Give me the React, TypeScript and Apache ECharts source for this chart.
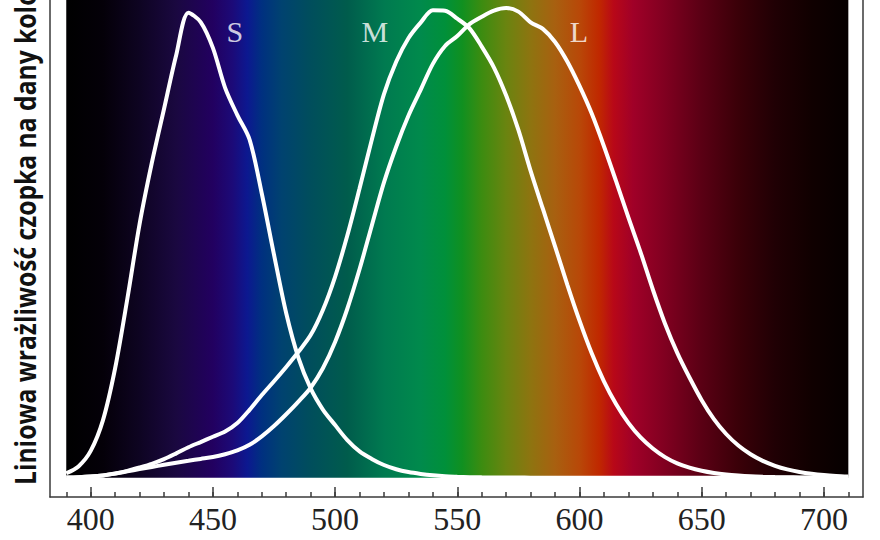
import React, { useEffect, useRef } from "react";
import * as echarts from "echarts";

// Wavelengths (nm) of the sampled sensitivity curves
const WAVELENGTHS = [
  390, 395, 400, 405, 410, 415, 420, 425, 430, 435, 440, 445, 450, 455, 460, 465, 470, 475, 480, 485,
  490, 495, 500, 505, 510, 515, 520, 525, 530, 535, 540, 545, 550, 555, 560, 565, 570, 575, 580, 585,
  590, 595, 600, 605, 610, 615, 620, 625, 630, 635, 640, 645, 650, 655, 660, 665, 670, 675, 680, 685,
  690, 695, 700, 705, 710,
];

const S_CONE = [
  0.0095, 0.024, 0.057, 0.122, 0.233, 0.381, 0.54, 0.67, 0.785, 0.9, 0.99, 0.97, 0.915, 0.83, 0.772, 0.72, 0.605, 0.475, 0.35, 0.255,
  0.19, 0.145, 0.112, 0.08, 0.056, 0.04, 0.027, 0.018, 0.012, 0.008, 0.005, 0.003, 0.002, 0.0012, 0.0007, 0.0005, 0.0003, 0.0002, 0.0001, 0,
  0, 0, 0, 0, 0, 0, 0, 0, 0, 0, 0, 0, 0, 0, 0, 0, 0, 0, 0, 0,
  0, 0, 0, 0, 0,
];

const M_CONE = [
  0.0004, 0.001, 0.0023, 0.0047, 0.0088, 0.0145, 0.0217, 0.0296, 0.0395, 0.0518, 0.0648, 0.0759, 0.0871, 0.0982, 0.1163, 0.1445, 0.1759, 0.2054, 0.2358, 0.2681,
  0.3036, 0.3571, 0.4278, 0.5156, 0.6155, 0.7192, 0.8166, 0.8856, 0.9357, 0.9689, 0.995, 0.994, 0.9772, 0.9566, 0.9178, 0.8732, 0.8135, 0.7403, 0.6533, 0.5726,
  0.4926, 0.4112, 0.3344, 0.2649, 0.2053, 0.1562, 0.1166, 0.0856, 0.0621, 0.0438, 0.0305, 0.0214, 0.0147, 0.01, 0.0068, 0.0046, 0.003, 0.002, 0.0013, 0.0009,
  0.0006, 0.0004, 0.0003, 0.0002, 0.0001,
];

const L_CONE = [
  0.0004, 0.0011, 0.0024, 0.0048, 0.0087, 0.0134, 0.0184, 0.0229, 0.0275, 0.032, 0.036, 0.04, 0.044, 0.05, 0.058, 0.07, 0.088, 0.11, 0.135, 0.162,
  0.1916, 0.2329, 0.289, 0.3597, 0.4437, 0.5365, 0.6286, 0.7047, 0.7706, 0.8257, 0.881, 0.9191, 0.9402, 0.9657, 0.9814, 0.9945, 1.0, 0.9923, 0.9694, 0.9556,
  0.9277, 0.886, 0.834, 0.7751, 0.7057, 0.6308, 0.5542, 0.4799, 0.4007, 0.3279, 0.2658, 0.2133, 0.1651, 0.1247, 0.093, 0.0685, 0.0499, 0.0358, 0.0254, 0.0177,
  0.0122, 0.0083, 0.0056, 0.0038, 0.0026,
];

// Curve labels
const CURVE_LABELS = ["S", "M", "L"];
const CURVE_LABEL_NM = [459, 516.3, 599.8];
const CURVE_LABEL_VALUE = 0.949;

// Axis ticks
const MAJOR_TICKS = [400, 450, 500, 550, 600, 650, 700];
const MINOR_TICKS = [
  390, 400, 410, 420, 430, 440, 450, 460, 470, 480, 490, 500, 510, 520, 530, 540, 550, 560, 570, 580,
  590, 600, 610, 620, 630, 640, 650, 660, 670, 680, 690, 700, 710,
];

// Spectrum background: wavelength -> colour
const SPECTRUM_RANGE = [390, 710];
const SPECTRUM_NM = [
  390, 405, 420, 435, 450, 458, 464, 470, 478, 490, 505, 520, 535, 545, 552, 560, 570, 580, 590, 600,
  608, 614, 622, 635, 650, 665, 680, 695, 710,
];
const SPECTRUM_COLORS = [
  "#000000", "#040008", "#0e0422", "#1a0840", "#220060", "#1c0a78", "#0c1890", "#003080", "#004270", "#004e5c",
  "#005c4c", "#007a50", "#008a4c", "#00903a", "#109020", "#3c8c10", "#6a8410", "#8e7410", "#a86010", "#b84808",
  "#c02800", "#b80818", "#a00028", "#800020", "#5a0014", "#3a0008", "#200004", "#100000", "#060000",
];

const Y_TITLE = "Liniowa wrażliwość czopka na dany kolor";

export default function App() {
  const ref = useRef<HTMLDivElement>(null);

  useEffect(() => {
    if (!ref.current) return;
    const chart = echarts.init(ref.current, null, { renderer: "svg" });

    const span = SPECTRUM_RANGE[1] - SPECTRUM_RANGE[0];
    const stops = SPECTRUM_NM.map((nm, i) => ({
      offset: (nm - SPECTRUM_RANGE[0]) / span,
      color: SPECTRUM_COLORS[i],
    }));

    const lineSeries = (name: string, values: number[]) => ({
      name,
      type: "line",
      data: WAVELENGTHS.map((w, i) => [w, values[i]]),
      smooth: 0.3,
      showSymbol: false,
      symbol: "none",
      lineStyle: { color: "#ffffff", width: 4 },
      z: 3,
      silent: true,
    });

    const frameColor = "#3a3a3a";
    const X_MIN = 383.35;
    const X_MAX = 716;

    chart.setOption({
      animation: false,
      backgroundColor: "#ffffff",
      grid: {
        left: 50,
        right: 17,
        top: 0,
        bottom: 43,
        show: false,
      },
      xAxis: [
        {
          type: "value",
          min: X_MIN,
          max: X_MAX,
          position: "bottom",
          axisLine: { show: true, onZero: false, lineStyle: { color: frameColor, width: 1.5 } },
          axisTick: {
            show: true,
            inside: true,
            length: 10,
            customValues: MAJOR_TICKS,
            lineStyle: { color: frameColor, width: 1.5 },
          },
          axisLabel: {
            show: true,
            customValues: MAJOR_TICKS,
            fontFamily: "Liberation Serif",
            fontSize: 32,
            color: "#222",
            margin: 6,
          },
          splitLine: { show: false },
        },
        {
          type: "value",
          min: X_MIN,
          max: X_MAX,
          position: "bottom",
          offset: 0,
          axisLine: { show: false, onZero: false },
          axisTick: {
            show: true,
            inside: true,
            length: 5,
            customValues: MINOR_TICKS,
            lineStyle: { color: frameColor, width: 1.5 },
          },
          axisLabel: { show: false },
          splitLine: { show: false },
        },
      ],
      yAxis: [
        {
          type: "value",
          min: -0.0411,
          max: 1.017,
          position: "left",
          axisLine: { show: true, onZero: false, lineStyle: { color: frameColor, width: 1.5 } },
          axisTick: { show: false },
          axisLabel: { show: false },
          splitLine: { show: false },
        },
        {
          type: "value",
          min: -0.0411,
          max: 1.017,
          position: "right",
          axisLine: { show: true, onZero: false, lineStyle: { color: frameColor, width: 1.5 } },
          axisTick: { show: false },
          axisLabel: { show: false },
          splitLine: { show: false },
        },
      ],
      graphic: [
        {
          type: "text",
          x: 25,
          y: 485,
          rotation: Math.PI / 2,
          scaleX: 0.88,
          style: {
            text: Y_TITLE,
            fontFamily: "Open Sans",
            fontWeight: "bold",
            fontSize: 28,
            fill: "#111",
            align: "left",
            verticalAlign: "middle",
          },
        },
      ],
      series: [
        {
          type: "custom",
          silent: true,
          z: 1,
          clip: true,
          data: [[SPECTRUM_RANGE[0], SPECTRUM_RANGE[1]]],
          renderItem: (params: any, api: any) => {
            const p0 = api.coord([api.value(0), 0]);
            const p1 = api.coord([api.value(1), 1.017]);
            return {
              type: "rect",
              shape: { x: p0[0], y: p1[1], width: p1[0] - p0[0], height: p0[1] - p1[1] },
              style: { fill: new echarts.graphic.LinearGradient(0, 0, 1, 0, stops) },
            };
          },
        },
        lineSeries("S", S_CONE),
        lineSeries("M", M_CONE),
        lineSeries("L", L_CONE),
        {
          type: "scatter",
          silent: true,
          symbolSize: 0,
          z: 4,
          data: CURVE_LABEL_NM.map((nm, i) => ({
            value: [nm, CURVE_LABEL_VALUE],
            label: { formatter: CURVE_LABELS[i] },
          })),
          label: {
            show: true,
            position: "inside",
            color: "#ffffff",
            fontFamily: "Liberation Serif",
            fontSize: 30,
          },
        },
      ],
    });

    return () => chart.dispose();
  }, []);

  return (
    <div
      ref={ref}
      style={{ position: "fixed", left: 0, top: 0, width: 880, height: 540 }}
    />
  );
}
